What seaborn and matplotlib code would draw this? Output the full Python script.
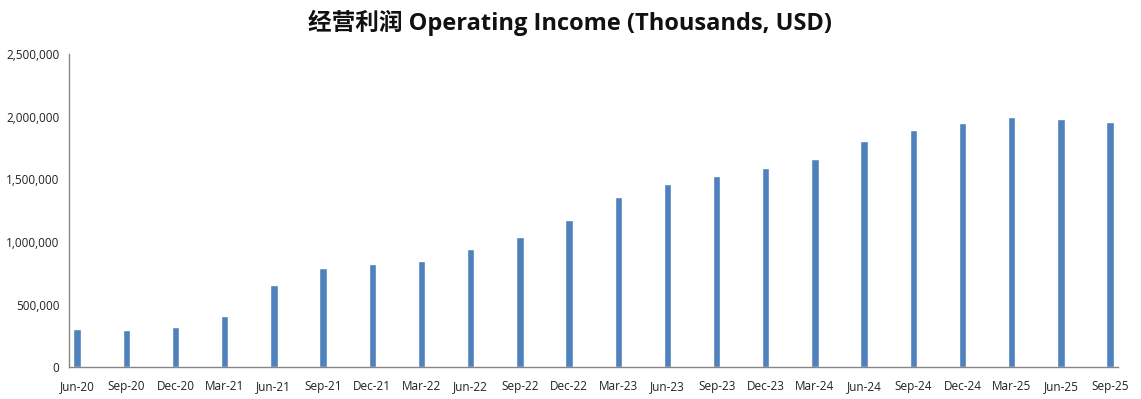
import numpy as np
import pandas as pd
import matplotlib
matplotlib.use("Agg")
import matplotlib.pyplot as plt
import seaborn as sns
from matplotlib.ticker import FuncFormatter

quarters = ["Jun-20", "Sep-20", "Dec-20", "Mar-21", "Jun-21", "Sep-21", "Dec-21",
            "Mar-22", "Jun-22", "Sep-22", "Dec-22", "Mar-23", "Jun-23", "Sep-23",
            "Dec-23", "Mar-24", "Jun-24", "Sep-24", "Dec-24", "Mar-25", "Jun-25",
            "Sep-25"]
income = [306000, 298000, 322000, 410000, 657000, 793000, 825000,
          849000, 945000, 1041000, 1177000, 1361000, 1465000, 1529000,
          1593000, 1665000, 1809000, 1897000, 1953000, 2001000, 1985000,
          1961000]
yticks = [0, 500000, 1000000, 1500000, 2000000, 2500000]

df = pd.DataFrame({"quarter": quarters, "income": income})

sns.set_style("white")
plt.rcParams["font.family"] = ["Open Sans", "Noto Sans CJK SC", "DejaVu Sans"]

fig = plt.figure(figsize=(11.41, 3.99), dpi=100)
ax = fig.add_axes([0.0605, 0.0794, 0.9195, 0.7846])

sns.barplot(data=df, x="quarter", y="income", color="#4F81BD", width=0.15,
            saturation=1, ax=ax)

# bars sit a little right of the category boundary ticks, like the excel chart
off = 0.163
ax.set_xlim(-off, len(quarters) - 1 + off)
ax.set_ylim(0, 2500000)
ax.set_yticks(yticks)
ax.yaxis.set_major_formatter(FuncFormatter(lambda v, p: f"{int(v):,}"))

ax.set_xticks(np.arange(len(quarters)))
ax.set_xticklabels(quarters)
ax.set_xticks(np.arange(len(quarters)) - off, minor=True)
ax.tick_params(axis="x", which="major", length=0, pad=9, labelsize=8.5, labelcolor="#222222")
ax.tick_params(axis="x", which="minor", length=4, width=1, color="#868686", direction="out")
ax.tick_params(axis="y", length=4, width=1, color="#868686", direction="out",
               labelsize=8.5, labelcolor="#222222", pad=3)

for s in ["top", "right"]:
    ax.spines[s].set_visible(False)
for s in ["left", "bottom"]:
    ax.spines[s].set_color("#868686")
    ax.spines[s].set_linewidth(1)

ax.set_xlabel("")
ax.set_ylabel("")

fig.text(0.5, 0.943, "经营利润 Operating Income (Thousands, USD)", ha="center", va="center",
         fontsize=17, fontweight="bold", color="#111111")

fig.savefig("out.png", dpi=100)
